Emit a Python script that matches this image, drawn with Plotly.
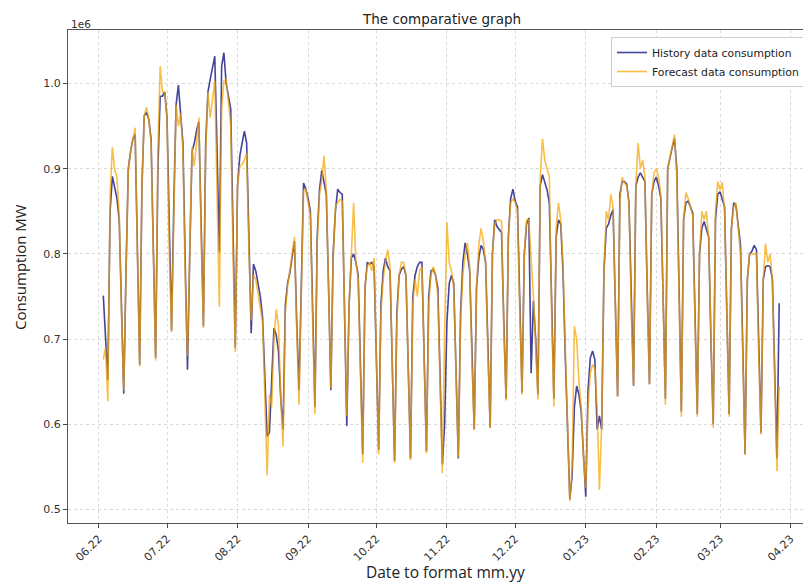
import pandas as pd
import plotly.graph_objects as go

# Daily consumption, in units of 1e6 MW, starting Fri 2022-06-03 (one row = Mon..Sun)
history = [
    0.751, 0.697, 0.652,
    0.85, 0.891, 0.878, 0.865, 0.840, 0.74, 0.636,
    0.78, 0.90, 0.92, 0.935, 0.94, 0.80, 0.67,
    0.88, 0.962, 0.966, 0.958, 0.935, 0.80, 0.678,
    0.90, 0.985, 0.985, 0.99, 0.96, 0.82, 0.71,
    0.86, 0.975, 0.998, 0.965, 0.93, 0.79, 0.664,
    0.80, 0.92, 0.93, 0.945, 0.955, 0.83, 0.715,
    0.93, 0.99, 1.005, 1.02, 1.032, 0.92, 0.802,
    1.02, 1.036, 1.0, 0.985, 0.97, 0.83, 0.69,
    0.88, 0.915, 0.93, 0.944, 0.93, 0.82, 0.707,
    0.788, 0.78, 0.765, 0.75, 0.725, 0.65, 0.586,
    0.59, 0.66, 0.713, 0.705, 0.685, 0.63, 0.594,
    0.74, 0.766, 0.778, 0.80, 0.815, 0.72, 0.64,
    0.76, 0.883, 0.876, 0.865, 0.85, 0.73, 0.62,
    0.82, 0.875, 0.898, 0.885, 0.87, 0.76, 0.64,
    0.80, 0.85, 0.876, 0.872, 0.87, 0.74, 0.598,
    0.74, 0.795, 0.80, 0.79, 0.775, 0.67, 0.565,
    0.76, 0.79, 0.788, 0.79, 0.785, 0.68, 0.57,
    0.74, 0.78, 0.795, 0.785, 0.78, 0.67, 0.557,
    0.73, 0.775, 0.782, 0.785, 0.775, 0.665, 0.56,
    0.75, 0.775, 0.785, 0.79, 0.79, 0.68, 0.568,
    0.75, 0.78, 0.782, 0.775, 0.76, 0.65, 0.553,
    0.60, 0.72, 0.765, 0.775, 0.765, 0.66, 0.56,
    0.73, 0.79, 0.813, 0.80, 0.78, 0.68, 0.594,
    0.76, 0.795, 0.81, 0.805, 0.79, 0.69, 0.596,
    0.80, 0.84, 0.832, 0.828, 0.825, 0.72, 0.63,
    0.82, 0.865, 0.876, 0.862, 0.855, 0.74, 0.637,
    0.80, 0.835, 0.842, 0.66, 0.745, 0.70, 0.635,
    0.88, 0.893, 0.885, 0.875, 0.86, 0.74, 0.63,
    0.82, 0.84, 0.835, 0.78, 0.68, 0.58, 0.512,
    0.54, 0.62, 0.645, 0.635, 0.615, 0.57, 0.515,
    0.64, 0.678, 0.686, 0.676, 0.594, 0.61, 0.594,
    0.78, 0.83, 0.835, 0.845, 0.852, 0.74, 0.633,
    0.87, 0.885, 0.885, 0.882, 0.86, 0.74, 0.645,
    0.88, 0.89, 0.895, 0.89, 0.885, 0.76, 0.647,
    0.87, 0.885, 0.89, 0.88, 0.865, 0.74, 0.63,
    0.90, 0.915, 0.925, 0.935, 0.90, 0.76, 0.615,
    0.84, 0.86, 0.862, 0.855, 0.848, 0.73, 0.612,
    0.80, 0.83, 0.838, 0.83, 0.82, 0.70, 0.60,
    0.84, 0.87, 0.873, 0.865, 0.855, 0.73, 0.612,
    0.83, 0.86, 0.857, 0.835, 0.81, 0.69, 0.565,
    0.77, 0.80, 0.803, 0.81, 0.805, 0.69, 0.59,
    0.77, 0.785, 0.786, 0.785, 0.77, 0.66, 0.56,
    0.742,
]

forecast = [
    0.676, 0.690, 0.627,
    0.87, 0.925, 0.899, 0.890, 0.845, 0.73, 0.640,
    0.78, 0.90, 0.92, 0.935, 0.948, 0.80, 0.668,
    0.88, 0.962, 0.972, 0.958, 0.93, 0.79, 0.675,
    0.92, 1.02, 0.99, 0.99, 0.96, 0.80, 0.708,
    0.86, 0.975, 0.95, 0.965, 0.92, 0.77, 0.68,
    0.80, 0.925, 0.903, 0.93, 0.96, 0.82, 0.713,
    0.92, 0.99, 0.96, 0.98, 1.003, 0.87, 0.738,
    0.97, 1.003, 1.005, 0.98, 0.95, 0.80, 0.685,
    0.88, 0.903, 0.905, 0.91, 0.918, 0.80, 0.722,
    0.775, 0.77, 0.755, 0.74, 0.72, 0.63, 0.54,
    0.635, 0.62, 0.70, 0.735, 0.715, 0.63, 0.574,
    0.73, 0.762, 0.78, 0.80, 0.82, 0.71, 0.623,
    0.75, 0.875, 0.876, 0.86, 0.845, 0.72, 0.612,
    0.81, 0.87, 0.885, 0.915, 0.875, 0.75, 0.642,
    0.79, 0.856, 0.86, 0.864, 0.862, 0.73, 0.61,
    0.74, 0.80, 0.86, 0.79, 0.77, 0.66, 0.555,
    0.76, 0.785, 0.79, 0.78, 0.795, 0.67, 0.565,
    0.73, 0.77, 0.79, 0.805, 0.785, 0.66, 0.555,
    0.72, 0.775, 0.79, 0.79, 0.775, 0.66, 0.558,
    0.74, 0.77, 0.75, 0.78, 0.785, 0.67, 0.566,
    0.74, 0.775, 0.785, 0.775, 0.75, 0.63, 0.543,
    0.71, 0.837, 0.79, 0.78, 0.76, 0.65, 0.561,
    0.72, 0.775, 0.80, 0.813, 0.785, 0.67, 0.594,
    0.76, 0.81, 0.83, 0.815, 0.79, 0.68, 0.596,
    0.80, 0.835, 0.84, 0.84, 0.838, 0.71, 0.628,
    0.82, 0.86, 0.865, 0.86, 0.85, 0.73, 0.635,
    0.80, 0.84, 0.84, 0.80, 0.75, 0.69, 0.629,
    0.89, 0.935, 0.91, 0.90, 0.89, 0.73, 0.621,
    0.83, 0.86, 0.84, 0.79, 0.69, 0.59, 0.51,
    0.55, 0.715, 0.70, 0.65, 0.62, 0.56, 0.525,
    0.62, 0.66, 0.67, 0.665, 0.62, 0.523, 0.60,
    0.78, 0.85, 0.84, 0.87, 0.855, 0.73, 0.632,
    0.86, 0.89, 0.883, 0.88, 0.86, 0.73, 0.645,
    0.88, 0.93, 0.90, 0.91, 0.89, 0.75, 0.647,
    0.87, 0.895, 0.90, 0.89, 0.87, 0.73, 0.623,
    0.90, 0.915, 0.93, 0.94, 0.89, 0.75, 0.609,
    0.84, 0.872, 0.865, 0.855, 0.845, 0.72, 0.609,
    0.80, 0.85, 0.84, 0.85, 0.82, 0.69, 0.596,
    0.85, 0.885, 0.875, 0.884, 0.85, 0.72, 0.609,
    0.83, 0.855, 0.86, 0.83, 0.80, 0.68, 0.564,
    0.77, 0.80, 0.80, 0.80, 0.80, 0.68, 0.588,
    0.77, 0.812, 0.79, 0.80, 0.77, 0.65, 0.545,
    0.645,
]

start_date = "2022-06-03"
tick_dates = ["2022-06-01", "2022-07-01", "2022-08-01", "2022-09-01", "2022-10-01",
              "2022-11-01", "2022-12-01", "2023-01-01", "2023-02-01", "2023-03-01",
              "2023-04-01"]
tick_labels = ["06.22", "07.22", "08.22", "09.22", "10.22", "11.22", "12.22",
               "01.23", "02.23", "03.23", "04.23"]
y_ticks = [0.5, 0.6, 0.7, 0.8, 0.9, 1.0]
y_tick_labels = ["0.5", "0.6", "0.7", "0.8", "0.9", "1.0"]
SCALE = 1e6

dates = pd.date_range(start_date, periods=len(history), freq="D")

fig = go.Figure()
fig.add_trace(go.Scatter(
    x=dates, y=[v * SCALE for v in history], mode="lines",
    name="History data consumption",
    line=dict(color="rgba(35,35,140,0.85)", width=1.6),
))
fig.add_trace(go.Scatter(
    x=dates, y=[v * SCALE for v in forecast], mode="lines",
    name="Forecast data consumption",
    line=dict(color="rgba(245,165,0,0.72)", width=1.6),
))

W, H = 803, 584
ml, mr, mt, mb = 68, 0, 30, 61
PH = H - mt - mb
fig.update_layout(
    width=W, height=H,
    margin=dict(l=ml, r=mr, t=mt, b=mb, autoexpand=False),
    paper_bgcolor="white", plot_bgcolor="white",
    font=dict(family="DejaVu Sans", size=11, color="#333333"),
    showlegend=True,
    legend=dict(x=(611 - ml) / (W - ml), y=(H - mb - 37) / PH,
                xanchor="left", yanchor="top",
                bgcolor="white", bordercolor="#cccccc", borderwidth=1,
                font=dict(family="DejaVu Sans", size=10.8, color="#222222"),
                itemwidth=30, tracegroupgap=0),
    xaxis=dict(
        type="date",
        range=["2022-05-18 12:00", "2023-04-06 11:00"],
        tickmode="array", tickvals=tick_dates, ticktext=tick_labels,
        tickangle=-45, tickfont=dict(family="DejaVu Sans", size=11, color="#333333"),
        ticks="outside", ticklen=4, tickcolor="#444444",
        showline=True, linecolor="#555555", linewidth=1, mirror=True,
        showgrid=True, gridcolor="#d9d9d9", griddash="dot", gridwidth=1,
        zeroline=False,
    ),
    yaxis=dict(
        range=[0.4842 * SCALE, 1.0627 * SCALE],
        tickmode="array", tickvals=[v * SCALE for v in y_ticks], ticktext=y_tick_labels,
        tickfont=dict(family="DejaVu Sans", size=11, color="#333333"),
        ticks="outside", ticklen=4, tickcolor="#444444",
        showline=True, linecolor="#555555", linewidth=1, mirror=False,
        showgrid=True, gridcolor="#d9d9d9", griddash="dot", gridwidth=1,
        zeroline=False,
    ),
    annotations=[
        dict(text="The comparative graph", xref="paper", yref="paper",
             x=(441 - ml) / (W - ml), y=(H - mb - 19) / PH,
             xanchor="center", yanchor="middle", showarrow=False,
             font=dict(family="DejaVu Sans", size=13.5, color="#222222")),
        dict(text="1e6", xref="paper", yref="paper", x=0.002, y=(H - mb - 24) / PH,
             xanchor="left", yanchor="middle", showarrow=False,
             font=dict(family="DejaVu Sans", size=10.5, color="#333333")),
        dict(text="Consumption MW", xref="paper", yref="paper",
             x=(20 - ml) / (W - ml), y=(H - mb - 267) / PH,
             xanchor="center", yanchor="middle", textangle=-90, showarrow=False,
             font=dict(family="Open Sans", size=15, color="#222222")),
        dict(text="Date to format mm.yy", xref="paper", yref="paper",
             x=(446 - ml) / (W - ml), y=(H - mb - 572) / PH,
             xanchor="center", yanchor="middle", showarrow=False,
             font=dict(family="Open Sans", size=15.5, color="#222222")),
    ],
)

fig.write_html("out.html")
